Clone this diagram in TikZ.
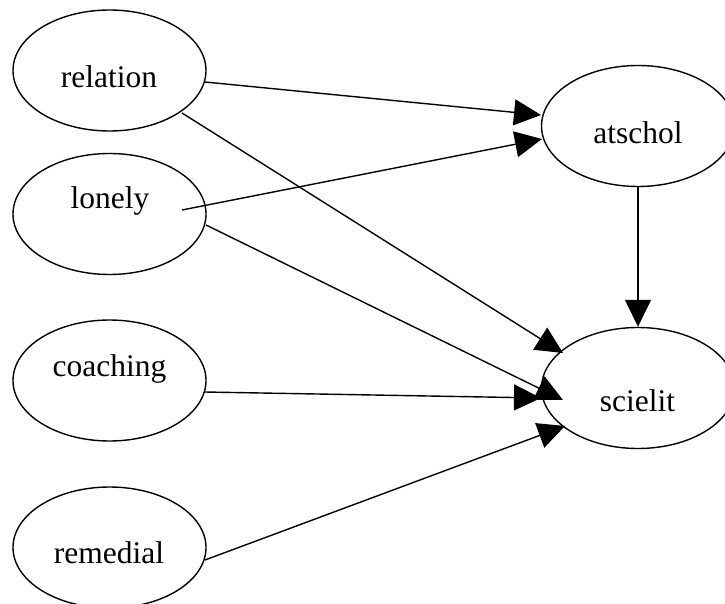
\documentclass[tikz,border=0pt]{standalone}
\usepackage{fontspec}
\setmainfont{Liberation Serif}
\usetikzlibrary{shapes.geometric,arrows.meta,calc}

\tikzset{
  var/.style={draw, ellipse, line width=1.4pt, minimum width=193pt, minimum height=121pt, inner sep=0pt},
  lbl/.style={anchor=base, inner sep=0pt, font=\fontsize{31.5pt}{36pt}\selectfont},
  path/.style={line width=1.4pt, -{Triangle[length=27pt,width=26pt]}}
}

\begin{document}
\begin{tikzpicture}[x=1pt,y=-1pt]
  \useasboundingbox (0,0) rectangle (725,604);
  \clip (0,0) rectangle (725,604);

  % variables
  \node[var] (relation) at (109.5,70.5) {};
  \node[var] (lonely)   at (109.5,214) {};
  \node[var] (coaching) at (109.5,380.5) {};
  \node[var] (remedial) at (109.5,547.5) {};
  \node[var] (atschol)  at (638,126) {};
  \node[var] (scielit)  at (638,388) {};

  % variable names
  \node[lbl] (relationT) at (109,88)  {relation};
  \node[lbl] (lonelyT)   at (110,208) {lonely};
  \node[lbl] (coachingT) at (109.5,376) {coaching};
  \node[lbl] (remedialT) at (109,563) {remedial};
  \node[lbl] (atscholT)  at (638,144) {atschol};
  \node[lbl] (scielitT)  at (637.5,411) {scielit};

  % paths to atschol
  \draw[path] ($(relation.center)+(95.5,11.5)$) -- ($(atschol.center)+(-97,-11)$);
  \draw[path] ($(lonely.center)+(72.5,-4)$) -- ($(atschol.center)+(-96,13)$);

  % paths to scielit
  \draw[path] ($(relation.center)+(72.5,42.5)$) -- ($(scielit.center)+(-75,-35)$);
  \draw[path] ($(lonely.center)+(96.5,11)$) -- ($(scielit.center)+(-75,12)$);
  \draw[path] ($(coaching.center)+(95.5,11.5)$) -- ($(scielit.center)+(-97,10)$);
  \draw[path] ($(remedial.center)+(95.5,12.5)$) -- ($(scielit.center)+(-73,38)$);
  \draw[path] (atschol.south) -- (scielit.north);
\end{tikzpicture}
\end{document}
